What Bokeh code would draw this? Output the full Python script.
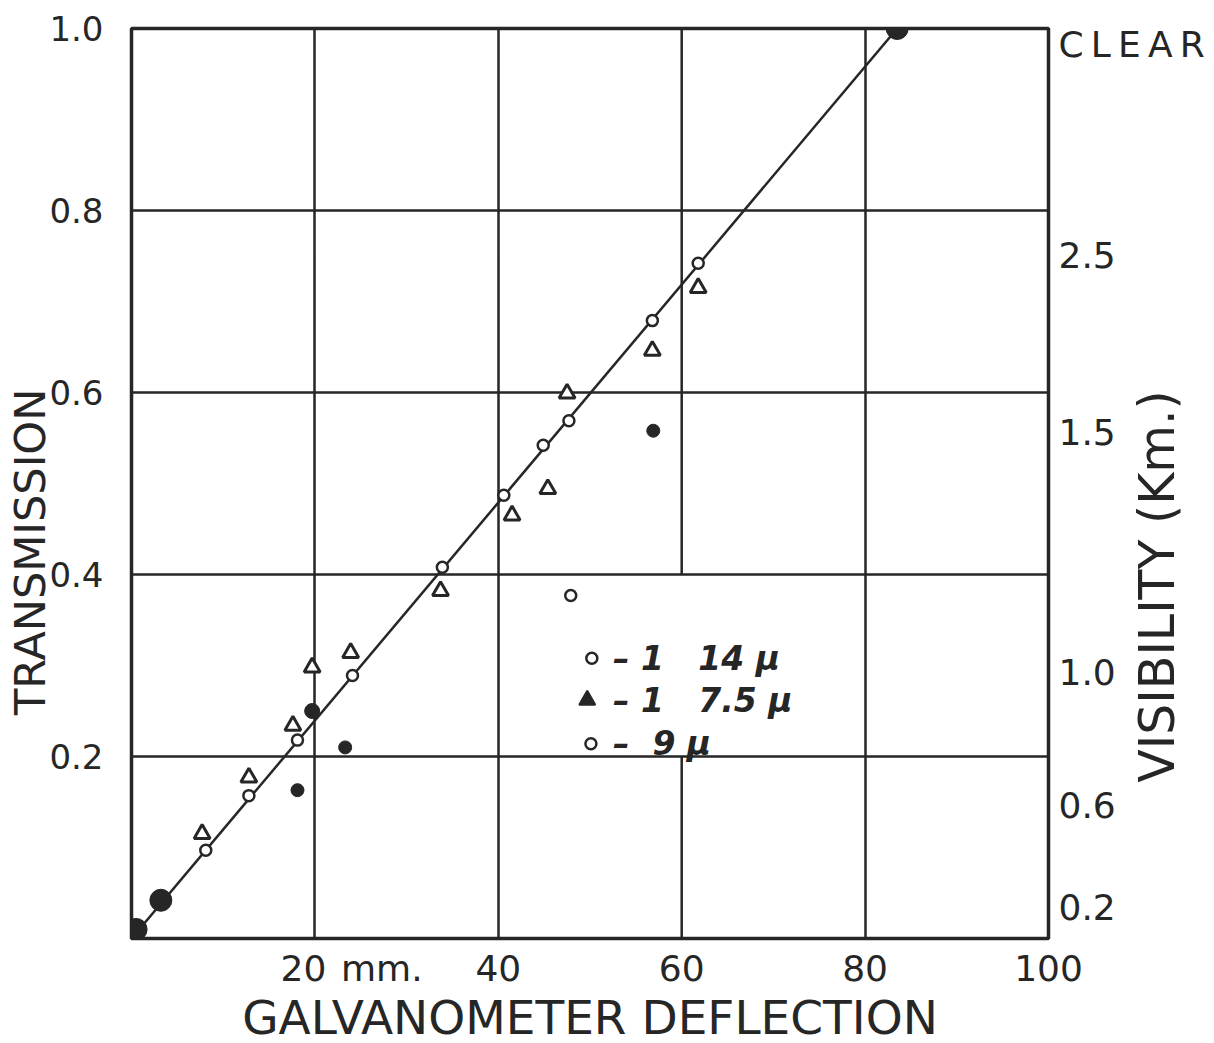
import math
from bokeh.plotting import figure
from bokeh.models import Range1d, LinearAxis, FixedTicker, PrintfTickFormatter
from bokeh.embed import file_html
from bokeh.resources import INLINE
from bokeh.core.properties import value

FONT = "DejaVu Sans"
INK = "#262626"
NB = "\u00a0"

# --- data (x: galvanometer deflection mm, y: transmission)
# open circles, series "-1 14 u"
c14_x = [8.1, 12.8, 18.1, 24.1, 33.9, 40.6, 44.9, 47.7, 56.8, 61.8]
c14_y = [0.097, 0.157, 0.218, 0.289, 0.408, 0.487, 0.542, 0.569, 0.679, 0.742]
# open triangles, series "-1 7.5 u"
tri_x = [7.7, 12.8, 17.6, 19.7, 23.9, 33.7, 41.5, 45.4, 47.5, 56.8, 61.8]
tri_y = [0.115, 0.177, 0.234, 0.298, 0.314, 0.382, 0.465, 0.494, 0.599, 0.646, 0.715]
# open circle, series "-9 u"
c9_x = [47.9]
c9_y = [0.377]
# small filled dots
dot_x = [18.1, 23.3, 56.9]
dot_y = [0.163, 0.210, 0.558]
# medium filled point
mid_x = [19.7]
mid_y = [0.250]
# large reference points
ref_x = [0.5, 3.2, 83.5]
ref_y = [0.010, 0.042, 1.0]
# calibration line
fit_x = [0.0, 83.5]
fit_y = [0.0, 1.0]

# axes
x_ticks = [20, 27.3, 40, 60, 80, 100]
x_labels = ["20" + NB + NB, "mm.", "40", "60", "80", "100"]
y_ticks = [0.2, 0.4, 0.6, 0.8, 1.0]
vis_pos = [0.982, 0.751, 0.556, 0.292, 0.146, 0.034]
vis_labels = ["C\u2009L\u2009E\u2009A\u2009R", "2.5", "1.5", "1.0", "0.6", "0.2"]

# legend
leg_labels = ["\u2013" + NB + "1" + NB * 3 + "14" + NB + "\u00b5",
              "\u2013" + NB + "1" + NB * 3 + "7.5" + NB + "\u00b5",
              "\u2013" + NB + NB + "9" + NB + "\u00b5"]

p = figure(frame_width=917, frame_height=910,
           x_range=Range1d(0, 100), y_range=Range1d(0, 1),
           output_backend="svg", toolbar_location=None,
           min_border_left=131, min_border_right=156,
           min_border_top=28, min_border_bottom=102,
           background_fill_color="white", border_fill_color="white")

p.outline_line_color = INK
p.outline_line_width = 3.5

# grid
p.xgrid.ticker = FixedTicker(ticks=[20, 40, 80])
p.ygrid.ticker = FixedTicker(ticks=[0.2, 0.4, 0.6, 0.8])
for g in (p.xgrid, p.ygrid):
    g.grid_line_color = INK
    g.grid_line_width = 2.5
    g.grid_line_alpha = 1.0
# the 60 line is interrupted by the legend
p.segment(x0=[60, 60], y0=[0.0, 0.4], x1=[60, 60], y1=[0.2, 1.0],
          line_color=INK, line_width=2.5, level="underlay")


def plain(ax):
    ax.axis_line_color = None
    ax.major_tick_line_color = None
    ax.minor_tick_line_color = None
    ax.major_tick_out = 0
    ax.major_tick_in = 0
    ax.minor_tick_out = 0
    ax.minor_tick_in = 0
    ax.major_label_text_font = FONT
    ax.major_label_text_color = INK
    ax.axis_label_text_font = FONT
    ax.axis_label_text_font_style = "normal"
    ax.axis_label_text_color = INK


# x axis
xa = p.xaxis[0]
plain(xa)
xa.ticker = FixedTicker(ticks=x_ticks)
xa.major_label_overrides = {t: s for t, s in zip(x_ticks, x_labels)}
xa.major_label_standoff = 9
xa.major_label_text_font_size = "36px"
xa.axis_label = "GALVANOMETER DEFLECTION"
xa.axis_label_text_font_size = "47px"
xa.axis_label_standoff = -2

# left axis
ya = p.yaxis[0]
plain(ya)
ya.ticker = FixedTicker(ticks=y_ticks)
ya.formatter = PrintfTickFormatter(format="%.1f")
ya.major_label_standoff = 28
ya.major_label_text_font_size = "34px"
ya.axis_label = "TRANSMISSION" + NB * 10
ya.axis_label_text_font_size = "43px"
ya.axis_label_standoff = -9

# right axis: visibility (label reads bottom-to-top)
ra = LinearAxis(ticker=FixedTicker(ticks=vis_pos),
                major_label_overrides={v: t for v, t in zip(vis_pos, vis_labels)})
plain(ra)
ra.major_label_standoff = 10
ra.major_label_text_font_size = "36px"
ra.axis_label_text_font_size = "49px"
ra.axis_label_standoff = -50
try:
    ra.axis_label_align = "start"
    ra.axis_label_orientation = math.pi / 2
    ra.axis_label = NB * 10 + "VISIBILITY (Km.)"
except Exception:
    ra.axis_label = NB * 14 + "VISIBILITY (Km.)"
p.add_layout(ra, "right")

# calibration line
p.line(fit_x, fit_y, line_color=INK, line_width=2.5)

# markers
p.scatter(ref_x, ref_y, marker="circle", size=22, fill_color=INK, line_color=INK)
p.scatter(mid_x, mid_y, marker="circle", size=15, fill_color=INK, line_color=INK)
p.scatter(dot_x, dot_y, marker="circle", size=13, fill_color=INK, line_color=INK)
p.scatter(c14_x, c14_y, marker="circle", size=11, fill_color="white",
          line_color=INK, line_width=2.5)
p.scatter(c9_x, c9_y, marker="circle", size=11, fill_color="white",
          line_color=INK, line_width=2.5)
p.scatter(tri_x, tri_y, marker="triangle", size=16, fill_color="white",
          line_color=INK, line_width=3)

# hand-drawn style legend
leg_mx = [50.2, 49.7, 50.1]
leg_my = [0.308, 0.262, 0.214]
p.scatter(leg_mx[0:1], leg_my[0:1], marker="circle", size=11, fill_color="white",
          line_color=INK, line_width=2.5)
p.scatter(leg_mx[1:2], leg_my[1:2], marker="triangle", size=16, fill_color=INK,
          line_color=INK, line_width=2)
p.scatter(leg_mx[2:3], leg_my[2:3], marker="circle", size=11, fill_color="white",
          line_color=INK, line_width=2.5)
p.text(x=[52.5, 52.5, 52.5], y=leg_my, text=leg_labels,
       text_font=value(FONT), text_font_size="33px", text_font_style="bold italic",
       text_baseline="middle", text_align="left", text_color=INK)

open("out.html", "w").write(file_html(p, INLINE))
